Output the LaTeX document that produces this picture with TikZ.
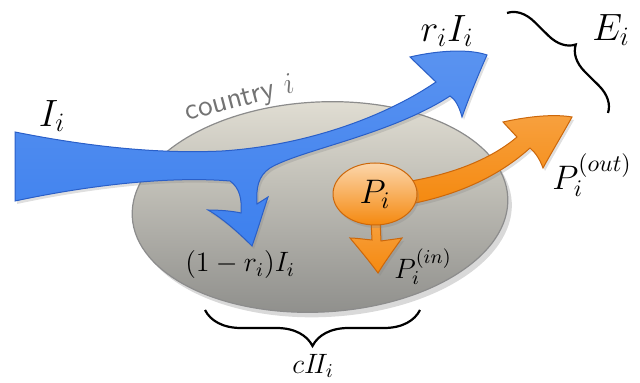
\RequirePackage{fix-cm}
\documentclass[tikz,border=0pt]{standalone}
\usepackage{tikz}
\usetikzlibrary{shapes.geometric,shadows,decorations.pathreplacing}

\definecolor{FlowBlue}{HTML}{3D80EE}
\definecolor{FlowBlueDark}{HTML}{2A5FC8}
\definecolor{FlowOrange}{HTML}{F5890F}
\definecolor{FlowOrangeDark}{HTML}{CC670A}
\definecolor{LandTop}{HTML}{E2DFD4}
\definecolor{LandBottom}{HTML}{8E8E8B}

\begin{document}
\begin{tikzpicture}[
  x=0.5pt, y=-0.5pt,
  lab/.style={text=black, font=\fontsize{14}{16}\selectfont},
  midlab/.style={text=black, font=\fontsize{17}{20}\selectfont},
  biglab/.style={text=black, font=\fontsize{19}{22}\selectfont},
  land/.style={ellipse, draw=black!45, line width=0.6pt,
    top color=LandTop, bottom color=LandBottom,
    minimum width=188pt, minimum height=105pt, rotate=3,
    drop shadow={opacity=0.3, shadow xshift=2pt, shadow yshift=-2.5pt}},
  blueflow/.style={draw=FlowBlueDark, line width=0.5pt,
    top color=FlowBlue!85!white, bottom color=FlowBlue,
    drop shadow={opacity=0.25, shadow xshift=1pt, shadow yshift=-1.5pt}},
  orangeflow/.style={draw=FlowOrangeDark, line width=0.5pt,
    top color=FlowOrange!80!white, bottom color=FlowOrange,
    drop shadow={opacity=0.25, shadow xshift=1pt, shadow yshift=-1.5pt}},
  pool/.style={ellipse, draw=FlowOrangeDark, line width=0.5pt,
    top color=FlowOrange!35!white, bottom color=FlowOrange,
    minimum width=42pt, minimum height=31pt, inner sep=0pt,
    drop shadow={opacity=0.25, shadow xshift=1pt, shadow yshift=-1.5pt}},
  bracket/.style={decorate, line width=1.1pt, decoration={brace, amplitude=#1}}]
\useasboundingbox (0,0) rectangle (640,383);

% country
\node[land] (land) at (320,207) {};
\node[rotate=15, text=black!55, font=\sffamily\fontsize{15}{17}\selectfont] (country) at (240,100) {country $i$};

% imports: tail, re-export and domestic branch
\path[blueflow] (15,132)
  .. controls (90,147) and (160,154) .. (222,151)
  .. controls (300,146) and (380,120) .. (436,82)
  -- (410,57)
  .. controls (440,50) and (470,49) .. (487,55)
  .. controls (478,75) and (468,100) .. (462,117)
  .. controls (459,106) and (455,99) .. (450,96)
  .. controls (390,135) and (300,150) .. (270,168)
  .. controls (258,176) and (256,188) .. (257,204)
  .. controls (260,202) and (265,199) .. (268,197)
  .. controls (262,215) and (257,232) .. (252,246)
  .. controls (238,232) and (222,218) .. (208,210)
  .. controls (220,210) and (232,211) .. (241,213)
  .. controls (242,200) and (240,188) .. (230,181)
  .. controls (170,176) and (90,185) .. (15,201)
  -- cycle;

% production: exported and kept
\path[orangeflow] (405,182)
  .. controls (450,175) and (490,160) .. (517,137)
  -- (503,122)
  .. controls (530,116) and (555,114) .. (572,117)
  .. controls (562,135) and (550,155) .. (543,168)
  .. controls (540,160) and (536,153) .. (530,148)
  .. controls (500,175) and (460,195) .. (405,205)
  -- cycle;
\path[orangeflow] (371,220) -- (372,240)
  .. controls (362,239) and (355,238) .. (350,238)
  .. controls (360,250) and (370,262) .. (378,273)
  .. controls (386,260) and (395,248) .. (402,238)
  .. controls (396,239) and (388,240) .. (381,241)
  -- (380,220) -- cycle;
\node[pool, midlab] (prod) at (375,194) {$P_i$};

% labels
\node[biglab] (imp) at (52,116) {$I_i$};
\node[biglab] (reexp) at (447,31) {$r_iI_i$};
\node[biglab] (exp) at (611,30) {$E_i$};
\node[midlab] (pout) at (592,175) {$P_i^{(out)}$};
\node[lab] (dom) at (240,265) {$(1-r_i)I_i$};
\node[lab] (pin) at (423,267) {$P_i^{(in)}$};
\node[lab] (cons) at (313,366) {$cI\!I_i$};

% braces
\coordinate (bl) at (205,310);
\coordinate (br) at (420,310);
\coordinate (et) at (507,13);
\coordinate (eb) at (608,113);
\draw[bracket=18pt] (br) -- (bl);
\draw[bracket=13pt] (et) -- (eb);
\end{tikzpicture}
\end{document}
